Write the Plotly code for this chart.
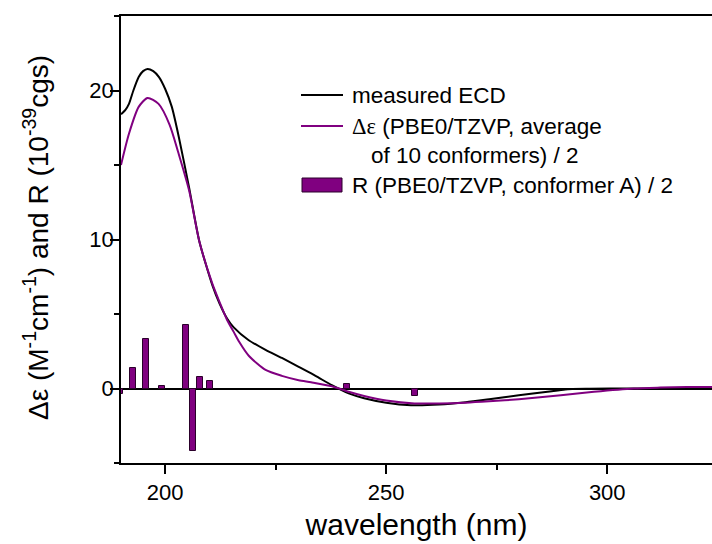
import plotly.graph_objects as go

# ---------------- data ----------------
wl_ecd = [190, 191, 191.8, 192.8, 194, 195, 196, 197.3, 198.6, 200, 201.5, 203.1, 205.4,
          207.7, 210.7, 212.3, 214, 215.5, 218.9, 222.7, 226.4, 230.2, 234, 237.7,
          241.5, 245, 250, 255.6, 262, 268, 273.3, 280, 286.5, 290.5, 296, 305, 315, 324]
ecd = [18.4, 18.7, 19.1, 20.0, 20.9, 21.3, 21.45, 21.3, 20.9, 20.1, 18.9, 16.85, 13.5,
       9.9, 6.9, 5.7, 4.7, 4.1, 3.24, 2.6, 2.05, 1.45, 0.85, 0.22,
       -0.33, -0.65, -0.95, -1.12, -1.08, -0.92, -0.72, -0.45, -0.22, -0.06, -0.02, 0.0, 0.0, 0.0]

wl_calc = [190, 191.8, 194, 196, 198.5, 201, 203, 205.4, 207.7, 210.7, 212.3, 214, 215.5,
           216.8, 218.9, 222.7, 226.4, 230.2, 233, 237.7, 241.5, 245, 250, 256.4, 262,
           268, 273.3, 280, 289.5, 297, 306, 312, 318, 324]
calc = [15.0, 17.1, 18.9, 19.5, 19.1, 17.7, 15.8, 13.3, 9.9, 7.0, 5.8, 4.6, 3.8,
        3.1, 2.2, 1.25, 0.85, 0.56, 0.42, 0.15, -0.22, -0.5, -0.8, -1.0, -1.0,
        -0.95, -0.86, -0.72, -0.45, -0.22, 0.0, 0.06, 0.1, 0.1]

wl_R = [189.7, 192.7, 195.6, 199.3, 204.7, 206.3, 207.8, 210.1, 241.2, 256.6]
R = [-0.35, 1.38, 3.32, 0.2, 4.26, -4.18, 0.8, 0.51, 0.27, -0.5]

x_range = [190, 323.7]
y_range = [-5, 25]

legend_labels = ["measured ECD",
                 "<span style='font-family:Liberation Serif'>\u0394\u03b5</span> (PBE0/TZVP, average",
                 "of 10 conformers) / 2",
                 "R (PBE0/TZVP, conformer A) / 2"]

PURPLE = "#800080"
FONT = "Liberation Sans, Arial, sans-serif"

# ---------------- figure ----------------
W, H = 712, 544
ML, MR, MT, MB = 121, 0, 16, 81
PW, PH = W - ML - MR, H - MT - MB


def px(xp):
    return (xp - ML) / PW


def py(yp):
    return (H - MB - yp) / PH


fig = go.Figure()
fig.add_trace(go.Bar(x=wl_R, y=R, width=1.4,
                     marker=dict(color=PURPLE, line=dict(color="#2a002a", width=1)),
                     showlegend=False))
fig.add_trace(go.Scatter(x=wl_ecd, y=ecd, mode="lines",
                         line=dict(color="black", width=2, shape="spline", smoothing=0.6),
                         showlegend=False))
fig.add_trace(go.Scatter(x=wl_calc, y=calc, mode="lines",
                         line=dict(color=PURPLE, width=2, shape="spline", smoothing=0.7),
                         showlegend=False))

fig.update_layout(
    width=W, height=H,
    margin=dict(l=ML, r=MR, t=MT, b=MB, pad=0),
    paper_bgcolor="white", plot_bgcolor="white",
    font=dict(family=FONT, size=22, color="black"),
    bargap=0,
    xaxis=dict(range=x_range, showgrid=False, zeroline=False,
               showline=True, linecolor="black", linewidth=1.5, mirror=True,
               ticks="outside", ticklen=9, tickwidth=1.5, tickcolor="black",
               tick0=0, dtick=50,
               minor=dict(ticks="outside", ticklen=5, tickwidth=1.5, tickcolor="black",
                          tick0=0, dtick=25),
               tickfont=dict(size=22),
               title=dict(text="wavelength (nm)", font=dict(size=30), standoff=10)),
    yaxis=dict(range=y_range, showgrid=False,
               zeroline=True, zerolinecolor="black", zerolinewidth=1.5,
               showline=True, linecolor="black", linewidth=1.5,
               ticks="outside", ticklen=9, tickwidth=1.5, tickcolor="black",
               tick0=0, dtick=10, ticklabelstandoff=-8,
               minor=dict(ticks="outside", ticklen=5, tickwidth=1.5, tickcolor="black",
                          tick0=0, dtick=5),
               tickfont=dict(size=22)),
)

# y-axis title
fig.add_annotation(
    text="\u0394\u03b5 (M<sup>-1</sup>cm<sup>-1</sup>) and R (10<sup>-39</sup>cgs)",
    xref="paper", yref="paper", x=px(36), y=py(238),
    xanchor="center", yanchor="middle", textangle=-90, showarrow=False,
    font=dict(size=28, family=FONT))

# manual legend
fig.add_shape(type="line", xref="paper", yref="paper",
              x0=px(301), x1=px(343), y0=py(95), y1=py(95),
              line=dict(color="black", width=2))
fig.add_shape(type="line", xref="paper", yref="paper",
              x0=px(301), x1=px(343), y0=py(126), y1=py(126),
              line=dict(color=PURPLE, width=2))
fig.add_shape(type="rect", xref="paper", yref="paper",
              x0=px(302), x1=px(342), y0=py(178), y1=py(192),
              line=dict(color="#2a002a", width=1), fillcolor=PURPLE)

for lbl, xl, yc in zip(legend_labels, [350, 350, 369, 350], [95, 126, 156, 185]):
    fig.add_annotation(text=lbl, xref="paper", yref="paper", x=px(xl), y=py(yc),
                       xanchor="left", yanchor="middle", showarrow=False,
                       font=dict(size=22.5, family=FONT))

fig.write_html("out.html")
